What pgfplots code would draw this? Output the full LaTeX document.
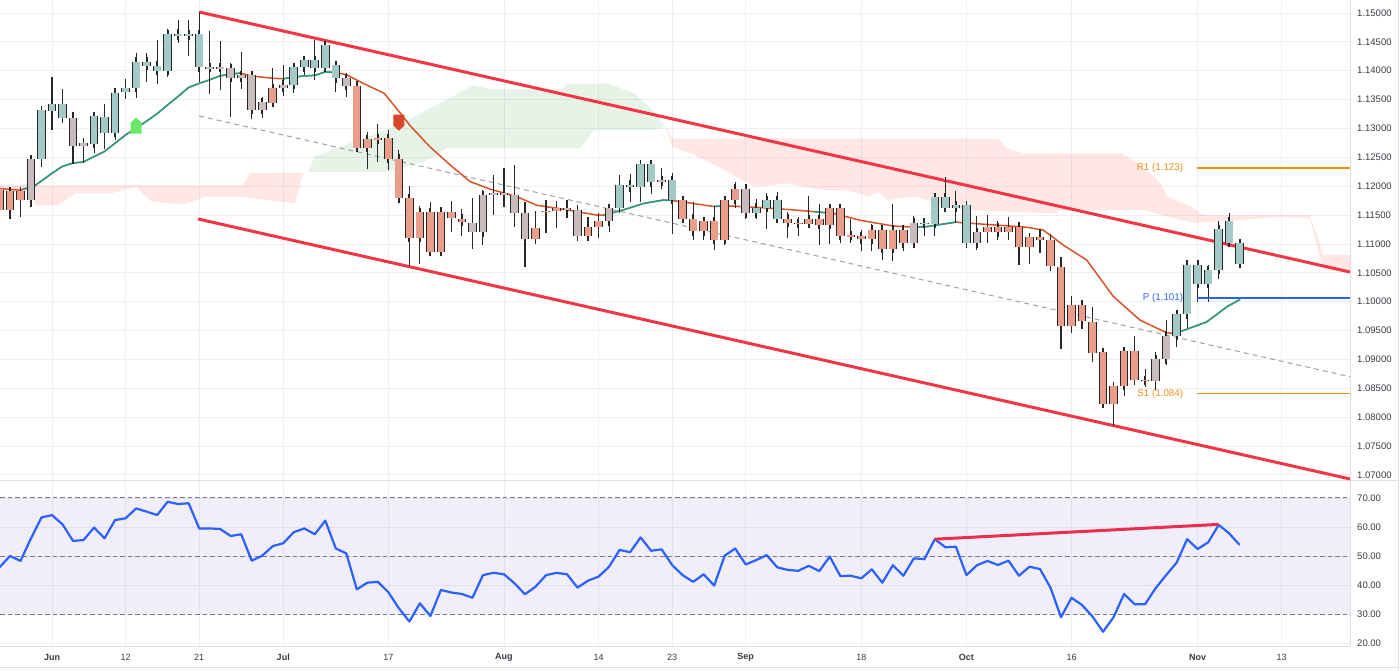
\documentclass[border=0pt]{standalone}
\usepackage{fontspec}
\setmainfont{Liberation Sans}
\usepackage{pgfplots}
\usepackage{pgfplotstable}
\pgfplotsset{compat=1.18}

\definecolor{cup}{RGB}{163,201,198}
\definecolor{cdn}{RGB}{232,158,138}
\definecolor{cne}{RGB}{201,186,188}
\definecolor{gridc}{RGB}{238,239,243}
\definecolor{framec}{RGB}{222,224,230}
\definecolor{chred}{RGB}{242,54,69}
\definecolor{maor}{RGB}{218,82,40}
\definecolor{mate}{RGB}{30,160,140}
\definecolor{cloudred}{RGB}{244,67,54}
\definecolor{cloudgreen}{RGB}{67,160,71}
\definecolor{rsiblue}{RGB}{41,98,255}
\definecolor{rsibg}{RGB}{126,87,194}
\definecolor{rsired}{RGB}{232,48,78}
\definecolor{pivor}{RGB}{247,140,20}
\definecolor{pivbl}{RGB}{41,98,255}
\definecolor{labc}{RGB}{55,58,66}
\definecolor{dashc}{RGB}{120,123,134}
\definecolor{midc}{RGB}{160,160,165}
\definecolor{mgreen}{RGB}{105,232,105}
\definecolor{mred}{RGB}{214,72,40}
\definecolor{wickc}{RGB}{40,40,40}

\pgfdeclareplotmark{arrup}{%
  \pgfpathmoveto{\pgfpoint{-5.5pt}{-8pt}}\pgfpathlineto{\pgfpoint{5.5pt}{-8pt}}%
  \pgfpathlineto{\pgfpoint{5.5pt}{3pt}}\pgfpathlineto{\pgfpoint{0pt}{8pt}}%
  \pgfpathlineto{\pgfpoint{-5.5pt}{3pt}}\pgfpathclose\pgfusepath{fill}}
\pgfdeclareplotmark{arrdn}{%
  \pgfpathmoveto{\pgfpoint{-5.5pt}{8pt}}\pgfpathlineto{\pgfpoint{5.5pt}{8pt}}%
  \pgfpathlineto{\pgfpoint{5.5pt}{-3pt}}\pgfpathlineto{\pgfpoint{0pt}{-8pt}}%
  \pgfpathlineto{\pgfpoint{-5.5pt}{-3pt}}\pgfpathclose\pgfusepath{fill}}

% k: 0 = teal, 1 = salmon, 2 = grey
\pgfplotstableread{
i o h l c k
-5 1.1193 1.1197 1.1155 1.1159 1
-4 1.1192 1.1192 1.1144 1.1159 1
-3 1.1192 1.1192 1.1147 1.1176 1
-2 1.1247 1.1247 1.1164 1.1176 2
-1 1.1247 1.1335 1.1234 1.1332 0
0 1.1330 1.1390 1.1297 1.1342 0
1 1.1318 1.1368 1.1310 1.1342 0
2 1.1318 1.1328 1.1238 1.1270 2
3 1.1275 1.1283 1.1240 1.1270 2
4 1.1274 1.1323 1.1257 1.1322 0
5 1.1292 1.1342 1.1264 1.1320 0
6 1.1292 1.1368 1.1280 1.1362 0
7 1.1363 1.1385 1.1351 1.1371 0
8 1.1371 1.1430 1.1352 1.1416 0
9 1.1409 1.1430 1.1381 1.1416 0
10 1.1400 1.1454 1.1377 1.1409 0
11 1.1400 1.1472 1.1390 1.1464 0
12 1.1460 1.1487 1.1448 1.1464 0
13 1.1460 1.1488 1.1426 1.1463 0
14 1.1406 1.1502 1.1381 1.1463 0
15 1.1406 1.1469 1.1359 1.1405 2
16 1.1406 1.1452 1.1367 1.1405 2
17 1.1405 1.1414 1.1319 1.1388 2
18 1.1392 1.1432 1.1369 1.1388 2
19 1.1392 1.1392 1.1316 1.1332 2
20 1.1345 1.1355 1.1318 1.1332 2
21 1.1370 1.1405 1.1339 1.1345 1
22 1.1376 1.1410 1.1357 1.1370 2
23 1.1376 1.1413 1.1362 1.1406 0
24 1.1406 1.1426 1.1393 1.1418 0
25 1.1405 1.1454 1.1384 1.1418 0
26 1.1405 1.1448 1.1400 1.1445 0
27 1.1387 1.1416 1.1363 1.1410 0
28 1.1387 1.1396 1.1355 1.1374 2
29 1.1374 1.1381 1.1260 1.1267 1
30 1.1281 1.1294 1.1229 1.1267 1
31 1.1283 1.1308 1.1242 1.1281 1
32 1.1283 1.1297 1.1228 1.1248 1
33 1.1248 1.1262 1.1179 1.1179 1
34 1.1179 1.1200 1.1061 1.1111 1
35 1.1155 1.1165 1.1065 1.1111 1
36 1.1155 1.1172 1.1087 1.1087 1
37 1.1156 1.1156 1.1087 1.1087 1
38 1.1156 1.1175 1.1120 1.1145 1
39 1.1144 1.1161 1.1113 1.1138 1
40 1.1137 1.1180 1.1091 1.1120 2
41 1.1184 1.1193 1.1098 1.1120 2
42 1.1189 1.1219 1.1150 1.1184 2
43 1.1189 1.1231 1.1164 1.1184 2
44 1.1184 1.1236 1.1130 1.1153 2
45 1.1153 1.1172 1.1060 1.1108 2
46 1.1127 1.1157 1.1108 1.1108 1
47 1.1157 1.1176 1.1119 1.1156 1
48 1.1163 1.1175 1.1127 1.1158 1
49 1.1163 1.1176 1.1145 1.1159 2
50 1.1159 1.1167 1.1105 1.1114 2
51 1.1129 1.1147 1.1105 1.1114 1
52 1.1139 1.1153 1.1110 1.1129 1
53 1.1162 1.1170 1.1121 1.1139 2
54 1.1162 1.1219 1.1153 1.1203 0
55 1.1198 1.1221 1.1173 1.1203 0
56 1.1198 1.1244 1.1172 1.1238 0
57 1.1207 1.1244 1.1186 1.1238 0
58 1.1211 1.1231 1.1196 1.1207 2
59 1.1176 1.1222 1.1117 1.1211 0
60 1.1176 1.1179 1.1136 1.1144 1
61 1.1144 1.1173 1.1107 1.1122 1
62 1.1140 1.1144 1.1106 1.1122 1
63 1.1140 1.1165 1.1089 1.1107 1
64 1.1176 1.1177 1.1099 1.1107 1
65 1.1196 1.1208 1.1162 1.1176 1
66 1.1196 1.1200 1.1144 1.1153 2
67 1.1153 1.1177 1.1144 1.1163 0
68 1.1163 1.1188 1.1126 1.1176 0
69 1.1144 1.1190 1.1141 1.1176 0
70 1.1144 1.1155 1.1111 1.1136 1
71 1.1136 1.1147 1.1114 1.1135 1
72 1.1143 1.1183 1.1129 1.1135 1
73 1.1143 1.1170 1.1098 1.1133 1
74 1.1162 1.1169 1.1100 1.1133 1
75 1.1162 1.1165 1.1101 1.1114 1
76 1.1115 1.1144 1.1102 1.1114 1
77 1.1114 1.1124 1.1087 1.1108 1
78 1.1125 1.1135 1.1088 1.1108 1
79 1.1125 1.1127 1.1073 1.1092 1
80 1.1125 1.1169 1.1071 1.1092 1
81 1.1125 1.1125 1.1087 1.1101 1
82 1.1137 1.1148 1.1100 1.1101 2
83 1.1135 1.1144 1.1114 1.1137 0
84 1.1135 1.1181 1.1114 1.1181 0
85 1.1163 1.1216 1.1163 1.1181 0
86 1.1163 1.1192 1.1137 1.1167 0
87 1.1101 1.1173 1.1095 1.1167 0
88 1.1120 1.1148 1.1089 1.1101 2
89 1.1129 1.1150 1.1102 1.1120 1
90 1.1129 1.1140 1.1106 1.1120 1
91 1.1130 1.1147 1.1107 1.1120 1
92 1.1130 1.1131 1.1064 1.1095 1
93 1.1112 1.1118 1.1066 1.1095 1
94 1.1112 1.1126 1.1084 1.1107 1
95 1.1107 1.1118 1.1058 1.1061 1
96 1.1061 1.1078 1.0918 1.0958 1
97 1.0994 1.1009 1.0945 1.0958 1
98 1.0994 1.1003 1.0952 1.0966 1
99 1.0965 1.0990 1.0896 1.0912 1
100 1.0912 1.0919 1.0821 1.0823 1
101 1.0854 1.0860 1.0785 1.0823 1
102 1.0915 1.0922 1.0837 1.0854 1
103 1.0915 1.0941 1.0861 1.0864 1
104 1.0864 1.0883 1.0852 1.0863 1
105 1.0900 1.0912 1.0847 1.0863 2
106 1.0941 1.0969 1.0890 1.0900 2
107 1.0941 1.0980 1.0922 1.0978 0
108 1.0978 1.1067 1.0954 1.1064 0
109 1.1031 1.1064 1.1000 1.1064 0
110 1.1031 1.1064 1.1000 1.1055 0
111 1.1055 1.1139 1.1039 1.1126 0
112 1.1102 1.1154 1.1095 1.1139 0
113 1.1066 1.1108 1.1065 1.1101 0
}\candles

\pgfplotstableread{
i r
-5 46.1
-4 50.0
-3 48.3
-2 56.1
-1 63.3
0 64.1
1 60.9
2 55.2
3 55.5
4 59.8
5 56.1
6 62.4
7 63.0
8 66.4
9 65.3
10 64.1
11 68.7
12 67.9
13 68.2
14 59.5
15 59.5
16 59.3
17 56.9
18 57.5
19 48.4
20 50.1
21 53.4
22 54.4
23 58.2
24 59.5
25 57.5
26 62.2
27 52.6
28 50.9
29 38.5
30 40.8
31 41.1
32 37.5
33 32.0
34 27.4
35 33.7
36 29.3
37 38.3
38 37.4
39 36.9
40 35.6
41 43.4
42 44.2
43 43.7
44 40.6
45 36.8
46 39.4
47 43.4
48 44.2
49 43.7
50 39.1
51 41.5
52 42.9
53 46.3
54 52.1
55 51.3
56 56.4
57 51.8
58 52.3
59 46.9
60 43.4
61 41.1
62 43.7
63 39.8
64 50.1
65 52.6
66 47.1
67 48.6
68 50.3
69 46.1
70 45.2
71 44.9
72 46.6
73 44.8
74 49.8
75 43.1
76 43.2
77 42.3
78 45.4
79 40.8
80 46.8
81 43.2
82 49.2
83 48.9
84 55.8
85 53.0
86 53.2
87 43.4
88 46.8
89 48.3
90 46.9
91 48.4
92 43.2
93 46.3
94 45.5
95 39.1
96 28.9
97 35.6
98 33.1
99 29.1
100 23.9
101 28.9
102 36.9
103 33.4
104 33.4
105 38.9
106 43.4
107 47.7
108 55.8
109 52.4
110 54.7
111 60.7
112 57.8
113 53.8
}\rsi

\pgfplotsset{
  wicks/.style={draw=none, mark=none, forget plot,
    error bars/.cd, y dir=plus, y explicit,
    error bar style={line width=1.1pt, draw=wickc, solid}, error mark=none},
  bodyline/.style={draw=none, mark=none, forget plot,
    error bars/.cd, y dir=both, y explicit,
    error bar style={line width=8.6pt, draw=black!85, solid},
    error mark=-, error mark options={line width=1.8pt, mark size=4.3pt, draw=black!85, solid}},
  bodyfill/.style 2 args={draw=none, mark=none, forget plot,
    unbounded coords=discard,
    y filter/.expression={\thisrow{k}==#1 ? y : nan},
    error bars/.cd, y dir=both, y explicit, error mark=none,
    error bar style={line width=6.8pt, draw=#2, solid}},
}

\begin{document}
\begin{tikzpicture}
\path[use as bounding box] (0,0) rectangle (1400pt,670pt);
\begin{axis}[
  at={(0pt,190pt)}, anchor=south west,
  scale only axis, width=1350pt, height=480pt,
  xmin=-4.95, xmax=123.5, ymin=1.069114, ymax=1.15225,
  enlargelimits=false,
  axis x line*=bottom, axis y line*=right,
  axis line style={draw=framec, line width=1pt},
  xtick={0,7,14,22,32,43,52,59,66,77,87,97,109,117},
  xticklabels={},
  ytick={1.07,1.075,1.08,1.085,1.09,1.095,1.1,1.105,1.11,1.115,1.12,1.125,1.13,1.135,1.14,1.145,1.15},
  yticklabel pos=right,
  scaled y ticks=false,
  yticklabel style={anchor=west, inner sep=0pt, xshift=7pt, font=\fontsize{9.5}{11}\selectfont, text=labc},
  yticklabel style={/pgf/number format/.cd, fixed, fixed zerofill, precision=5, assume math mode=true},
  major tick length=0pt,
  grid=major, major grid style={draw=gridc, line width=0.8pt},
]
% Ichimoku cloud
\addplot[draw=none, fill=cloudred, fill opacity=0.13] coordinates {
(-4.95,1.1202) (7.80,1.1202) (18.17,1.1202) (18.84,1.1223) (23.94,1.1223) (23.08,1.1170)
(17.98,1.1182) (14.56,1.1182) (12.89,1.1170) (11.19,1.1170) (9.50,1.1173) (7.99,1.1199)
(5.71,1.1188) (2.28,1.1188) (0.57,1.1167) (-1.52,1.1167) (-2.0,1.1188) (-4.95,1.1190)} -- cycle;
\addplot[draw=none, fill=cloudgreen, fill opacity=0.13] coordinates {
(24.36,1.1225) (25.0,1.1251) (33.28,1.1309) (37.49,1.1349) (40.06,1.1375) (41.77,1.1368)
(48.57,1.1368) (49.0,1.1377) (52.81,1.1378) (55.38,1.1361) (57.47,1.1326) (58.33,1.1303)
(57.09,1.1297) (51.57,1.1297) (50.24,1.1266) (37.49,1.1266) (35.83,1.1245) (31.97,1.1225)} -- cycle;
\addplot[draw=none, fill=cloudred, fill opacity=0.13] coordinates {
(58.33,1.1306) (58.99,1.1283) (89.99,1.1283) (90.87,1.1266) (92.17,1.1257) (101.78,1.1257)
(103.08,1.1242) (105.23,1.1211) (106.14,1.1182) (108.33,1.1165) (109.61,1.1150) (119.67,1.1150)
(120.98,1.1081) (123.5,1.1081) (123.5,1.1050) (120.98,1.1055) (119.67,1.1144) (117.03,1.1147)
(112.65,1.1141) (108.75,1.1136) (106.14,1.1147) (103.96,1.1159) (96.1,1.1159) (95.24,1.1153)
(86.49,1.1159) (82.11,1.1182) (79.51,1.1176) (78.64,1.1190) (77.74,1.1182) (75.59,1.1193)
(73.41,1.1193) (69.92,1.1205) (66.86,1.1199) (63.37,1.1234) (60.75,1.1257) (58.99,1.1268)} -- cycle;
% channel midline
\addplot[midc, line width=1pt, dash pattern=on 5pt off 4pt] coordinates {(14,1.13216) (123.5,1.0870)};
% moving average
\addplot[maor, line width=1.5pt] coordinates {
(-4.95,1.1196) (-3.04,1.1193) (-1.78,1.1199) (-0.03,1.1222) (0.95,1.1234) (1.97,1.1240) (2.98,1.1242)
(3.97,1.1251) (4.98,1.1260) (5.97,1.1274) (7.01,1.1289) (7.96,1.1300) (8.94,1.1312) (9.96,1.1325)
(11.01,1.1341) (11.96,1.1355) (13.0,1.1371) (13.99,1.1378) (14.97,1.1384) (15.96,1.1391) (17.0,1.1394)
(17.9,1.1396) (18.93,1.1391) (19.95,1.1389) (21.0,1.1387) (22.0,1.1386) (22.96,1.1389) (24.0,1.1391)
(25.02,1.1392) (26.0,1.1398) (26.96,1.1397) (28.04,1.1393) (29.62,1.1378) (31.6,1.1361) (33.3,1.1323)
(34.06,1.1305) (35.97,1.1268) (37.87,1.1237) (39.77,1.1208) (41.67,1.1195) (44.2,1.1182) (46.12,1.1167)
(48.65,1.1160) (51.83,1.1150) (52.46,1.1150) (54.36,1.1159) (56.26,1.1170) (58.16,1.1176) (59.12,1.1175)
(61.02,1.1170) (62.92,1.1165) (64.2,1.1166) (67.36,1.1163) (70.53,1.1159) (73.07,1.1155) (74.34,1.1153)
(76.88,1.1141) (80.05,1.1131) (82.0,1.1129) (83.22,1.1130) (86.08,1.1138) (86.39,1.1137) (89.56,1.1133)
(92.74,1.1129) (94.32,1.1124) (96.22,1.1098) (98.45,1.1072) (100.98,1.1009) (103.52,1.0968)
(106.06,1.0946) (107.01,1.0945) (107.33,1.0948) (109.87,1.0965) (111.77,1.0991) (113.04,1.1004)};
\addplot[mate, line width=1.5pt] coordinates {(-2.8,1.1195) (-1.78,1.1199) (-0.03,1.1222) (0.95,1.1234) (1.97,1.1240) (2.98,1.1242) (3.97,1.1251) (4.98,1.1260) (5.97,1.1274) (7.01,1.1289) (7.96,1.1300) (8.94,1.1312) (9.96,1.1325) (11.01,1.1341) (11.96,1.1355) (13.0,1.1371) (13.99,1.1378) (14.97,1.1384) (15.96,1.1391) (17.0,1.1394) (17.9,1.1396)};
\addplot[mate, line width=1.5pt] coordinates {(22.0,1.1386) (22.96,1.1389) (24.0,1.1391) (25.02,1.1392) (26.0,1.1398) (26.96,1.1397)};
\addplot[mate, line width=1.5pt] coordinates {(52.46,1.1150) (54.36,1.1159) (56.26,1.1170) (58.16,1.1176) (59.12,1.1175)};
\addplot[mate, line width=1.5pt] coordinates {(62.92,1.1165) (64.2,1.1166)};
\addplot[mate, line width=1.5pt] coordinates {(72.5,1.1156) (73.07,1.1155) (74.34,1.1153)};
\addplot[mate, line width=1.5pt] coordinates {(82.0,1.1129) (83.22,1.1130) (86.08,1.1138)};
\addplot[mate, line width=1.5pt] coordinates {(107.33,1.0948) (109.87,1.0965) (111.77,1.0991) (113.04,1.1004)};
% channel
\addplot[chred, line width=3pt] coordinates {(14,1.15017) (123.5,1.10514)};
\addplot[chred, line width=3pt] coordinates {(13.9,1.11432) (123.5,1.06929)};
% candles: wicks, outlines, bodies
\addplot[wicks] table[x=i, y=l, y error plus expr=\thisrow{h}-\thisrow{l}] {\candles};
\addplot[bodyline] table[x=i, y expr=(\thisrow{o}+\thisrow{c})/2, y error expr=abs(\thisrow{c}-\thisrow{o})/2] {\candles};
\addplot[bodyfill={0}{cup}] table[x=i, y expr=(\thisrow{o}+\thisrow{c})/2, y error expr=abs(\thisrow{c}-\thisrow{o})/2] {\candles};
\addplot[bodyfill={1}{cdn}] table[x=i, y expr=(\thisrow{o}+\thisrow{c})/2, y error expr=abs(\thisrow{c}-\thisrow{o})/2] {\candles};
\addplot[bodyfill={2}{cne}] table[x=i, y expr=(\thisrow{o}+\thisrow{c})/2, y error expr=abs(\thisrow{c}-\thisrow{o})/2] {\candles};
% signal markers
\addplot[only marks, mark=arrup, mark options={fill=mgreen, draw=none}] coordinates {(8,1.1305)};
\addplot[only marks, mark=arrdn, mark options={fill=mred, draw=none}] coordinates {(33,1.1310)};
% pivots
\addplot[pivor, line width=1.8pt] coordinates {(108.9,1.1231) (123.5,1.1231)};
\addplot[pivbl, line width=1.8pt] coordinates {(108.9,1.1007) (123.5,1.1007)};
\addplot[pivor, line width=1.8pt] coordinates {(108.9,1.0841) (123.5,1.0841)};
\node[anchor=east, inner sep=0pt, text=pivor, font=\fontsize{9.8}{11}\selectfont] at (axis cs:107.64,1.1231) {R1 (1.123)};
\node[anchor=east, inner sep=0pt, text=pivbl, font=\fontsize{9.8}{11}\selectfont] at (axis cs:107.64,1.1007) {P (1.101)};
\node[anchor=east, inner sep=0pt, text=pivor, font=\fontsize{9.8}{11}\selectfont] at (axis cs:107.64,1.0841) {S1 (1.084)};
\end{axis}

\begin{axis}[
  at={(0pt,24pt)}, anchor=south west,
  scale only axis, width=1350pt, height=165pt,
  xmin=-4.95, xmax=123.5, ymin=18.97, ymax=75.86,
  enlargelimits=false,
  axis x line*=bottom, axis y line*=right,
  axis line style={draw=framec, line width=1pt},
  xtick={0,7,14,22,32,43,52,59,66,77,87,97,109,117},
  xticklabels={\textbf{Jun},12,21,\textbf{Jul},17,\textbf{Aug},14,23,\textbf{Sep},18,\textbf{Oct},16,\textbf{Nov},13},
  xticklabel style={anchor=center, yshift=-11pt, font=\fontsize{9}{10}\selectfont, text=labc},
  ytick={20,30,40,50,60,70},
  yticklabel pos=right,
  yticklabel style={anchor=west, inner sep=0pt, xshift=7pt, font=\fontsize{9.5}{11}\selectfont, text=labc},
  yticklabel style={/pgf/number format/.cd, fixed, fixed zerofill, precision=2, assume math mode=true},
  major tick length=0pt,
  grid=major, major grid style={draw=gridc, line width=0.8pt},
]
\addplot[draw=none, fill=rsibg, fill opacity=0.1] coordinates {(-4.95,30) (123.5,30) (123.5,70) (-4.95,70)} -- cycle;
\addplot[dashc, line width=1pt, dash pattern=on 4.5pt off 3pt] coordinates {(-4.95,70) (123.5,70)};
\addplot[dashc, line width=1pt, dash pattern=on 4.5pt off 3pt] coordinates {(-4.95,50) (123.5,50)};
\addplot[dashc, line width=1pt, dash pattern=on 4.5pt off 3pt] coordinates {(-4.95,30) (123.5,30)};
\addplot[rsiblue, line width=2.2pt, line join=round] table[x=i, y=r] {\rsi};
\addplot[rsired, line width=3pt] coordinates {(84,55.8) (111,60.9)};
\end{axis}
\draw[framec, line width=1pt] (1350pt,190pt) -- (1398pt,190pt);
\draw[framec, line width=1pt] (1398pt,0pt) -- (1398pt,670pt);
\draw[framec, line width=1pt] (0pt,3pt) -- (1398pt,3pt);
\end{tikzpicture}
\end{document}
